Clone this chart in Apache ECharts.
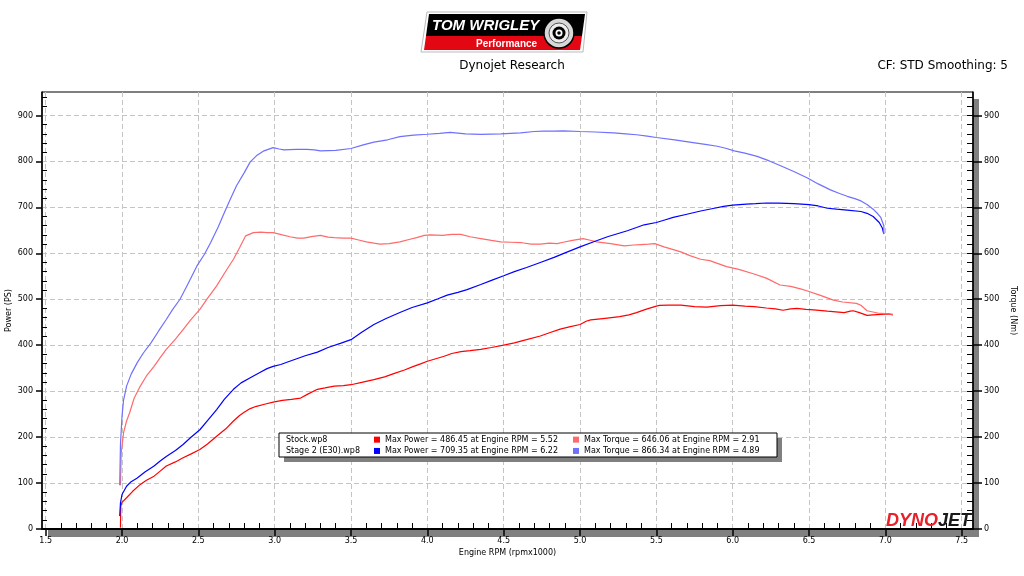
<!DOCTYPE html>
<html>
<head>
<meta charset="utf-8">
<script src="https://cdn.jsdelivr.net/npm/echarts@6/dist/echarts.min.js"></script>
<style>html,body{margin:0;padding:0;background:#fff}#c{width:1024px;height:576px}</style>
</head>
<body>
<div id="c"></div>
<script>
// ---- Data ----
var stockPowerRpm = [1.99,1.992,2.0,2.03,2.07,2.12,2.16,2.21,2.25,2.29,2.35,2.40,2.45,2.51,2.56,2.62,2.68,2.73,2.77,2.80,2.84,2.88,2.94,2.99,3.05,3.11,3.17,3.22,3.28,3.33,3.39,3.45,3.50,3.57,3.65,3.72,3.78,3.85,3.91,3.96,4.00,4.05,4.11,4.16,4.22,4.28,4.35,4.42,4.50,4.57,4.65,4.74,4.80,4.87,4.93,5.00,5.04,5.07,5.15,5.26,5.32,5.37,5.43,5.50,5.52,5.58,5.66,5.75,5.83,5.92,6.00,6.08,6.14,6.22,6.28,6.33,6.38,6.42,6.48,6.53,6.62,6.73,6.77,6.79,6.83,6.88,6.92,6.97,7.02,7.05];
var stockPowerPS = [3,50,58,68,82,97,106,115,126,137,146,155,163,173,185,202,218,235,247,254,262,267,272,276,280,282,285,294,304,307,311,312,314,319,325,331,338,346,354,360,365,370,376,382,386,388,391,395,400,405,412,420,427,435,440,445,452,455,458,462,466,471,478,485,486.5,487,487,484,483,486,487,485,484,481,479,476,479,480,478,477,474,471,474,475,471,465,466,467,468,466];

var stockTorqueRpm = [1.99,1.995,2.01,2.03,2.05,2.08,2.12,2.16,2.21,2.25,2.29,2.35,2.40,2.45,2.51,2.56,2.62,2.67,2.73,2.77,2.81,2.86,2.91,2.95,2.99,3.05,3.10,3.15,3.19,3.25,3.30,3.35,3.39,3.45,3.50,3.55,3.60,3.65,3.69,3.75,3.82,3.88,3.93,3.98,4.02,4.10,4.16,4.22,4.28,4.35,4.42,4.48,4.55,4.62,4.68,4.74,4.80,4.85,4.89,4.95,5.02,5.06,5.11,5.20,5.29,5.35,5.40,5.45,5.49,5.55,5.60,5.66,5.72,5.79,5.85,5.90,5.96,6.04,6.14,6.22,6.31,6.38,6.45,6.49,6.57,6.66,6.72,6.81,6.84,6.88,6.95,7.00,7.05];
var stockTorqueNm = [95,166,209,235,253,285,311,333,354,373,391,413,434,455,478,502,529,556,587,612,638,645,646,645,645,640,636,633,633,637,639,635,634,633,633,629,625,622,620,621,625,630,634,639,640,639,641,641,636,632,628,625,624,623,620,620,622,621,624,628,632,629,625,621,616,618,619,620,621,614,609,603,595,587,584,578,571,565,555,546,531,528,522,518,509,498,494,491,487,475,470,469,467];

var stage2PowerRpm = [1.985,1.99,2.0,2.03,2.06,2.10,2.15,2.21,2.25,2.29,2.35,2.40,2.45,2.51,2.56,2.62,2.67,2.73,2.78,2.84,2.90,2.95,2.99,3.04,3.08,3.14,3.20,3.28,3.35,3.43,3.50,3.57,3.65,3.73,3.82,3.90,4.00,4.07,4.13,4.20,4.26,4.35,4.42,4.50,4.57,4.65,4.74,4.83,4.91,5.00,5.09,5.18,5.25,5.31,5.37,5.42,5.50,5.56,5.61,5.70,5.79,5.88,5.94,6.00,6.09,6.15,6.22,6.30,6.40,6.50,6.56,6.62,6.68,6.75,6.84,6.88,6.92,6.96,6.98,6.99];
var stage2PowerPS = [28,57,75,93,103,111,124,137,148,158,171,184,199,216,236,260,282,304,318,329,340,349,354,358,363,370,377,385,395,404,412,428,445,458,471,482,492,501,509,515,521,532,541,551,560,569,580,591,602,614,625,636,643,649,656,662,667,673,678,685,692,698,702,705,707,708,709.4,709,708,706,703,698,696,694,691,687,680,667,655,642];

var stage2TorqueRpm = [1.985,1.99,2.0,2.01,2.03,2.06,2.10,2.14,2.19,2.24,2.29,2.33,2.38,2.43,2.49,2.54,2.58,2.63,2.67,2.71,2.75,2.80,2.84,2.88,2.93,2.99,3.03,3.06,3.14,3.21,3.26,3.30,3.40,3.50,3.58,3.65,3.74,3.82,3.91,4.00,4.08,4.15,4.25,4.35,4.48,4.61,4.70,4.76,4.83,4.89,5.00,5.10,5.22,5.30,5.37,5.44,5.50,5.62,5.74,5.82,5.90,5.96,6.01,6.08,6.16,6.24,6.31,6.40,6.49,6.56,6.64,6.70,6.75,6.80,6.84,6.88,6.92,6.95,6.97,6.99,6.99];
var stage2TorqueNm = [95,185,245,280,311,337,362,383,405,431,456,477,500,532,572,598,623,657,688,718,747,775,799,812,823,830,827,825,826,826,825,823,824,828,836,842,847,854,857,859,861,863,860,859,860,862,865,866,866,866.3,865,864,862,860,858,855,852,847,841,837,833,828,823,818,811,801,791,778,764,751,738,730,724,719,714,706,696,686,678,660,642];

var xTickLabels = [1.5,2.0,2.5,3.0,3.5,4.0,4.5,5.0,5.5,6.0,6.5,7.0,7.5];
var yTickLabels = [0,100,200,300,400,500,600,700,800,900];

var legendText = {
  'Stock Power': 'Max Power = 486.45 at Engine RPM = 5.52',
  'Stage 2 Power': 'Max Power = 709.35 at Engine RPM = 6.22',
  'Stock Torque': 'Max Torque = 646.06 at Engine RPM = 2.91',
  'Stage 2 Torque': 'Max Torque = 866.34 at Engine RPM = 4.89'
};
var runNames = ['Stock.wp8', 'Stage 2 (E30).wp8'];

// ---- helpers ----
function pairs(xs, ys) { return xs.map(function (x, i) { return [x, ys[i]]; }); }
var xMinor = [];
for (var i = 15; i <= 75; i++) { if (i % 5 !== 0) xMinor.push(i / 10); }
var yMinor = [];
for (var j = 20; j <= 940; j += 20) { if (j % 100 !== 0) yMinor.push(j); }

var XMIN = 1.476, XMAX = 7.574, YMAX = 951;
var FONT = 'DejaVu Sans';
var lblStyle = { color: '#000', fontSize: 8, fontFamily: FONT };

var chart = echarts.init(document.getElementById('c'), null, { renderer: 'canvas' });
chart.setOption({
  animation: false,
  backgroundColor: '#fff',
  textStyle: { fontFamily: FONT },
  grid: { left: 42, right: 51, top: 92, bottom: 47, show: true, backgroundColor: '#fff', borderColor: '#000', borderWidth: 1, containLabel: false, outerBoundsMode: 'none' },
  xAxis: [
    {
      type: 'value', min: XMIN, max: XMAX, position: 'bottom',
      name: 'Engine RPM (rpmx1000)', nameLocation: 'middle', nameGap: 20, nameMoveOverlap: false,
      nameTextStyle: { color: '#000', fontSize: 8, fontFamily: FONT },
      axisLine: { show: true, lineStyle: { color: '#000', width: 1.8 } },
      axisTick: { show: true, inside: false, length: 7, customValues: xTickLabels, lineStyle: { color: '#000', width: 1.5 } },
      axisLabel: Object.assign({ customValues: xTickLabels, margin: 8, formatter: function (v) { return v.toFixed(1); } }, lblStyle),
      splitLine: { show: true, lineStyle: { color: '#c4c4c4', type: [5, 3], width: 1 } }
    },
    {
      type: 'value', min: XMIN, max: XMAX, position: 'bottom',
      axisLine: { show: false },
      axisTick: { show: true, inside: true, length: 6, customValues: xMinor, lineStyle: { color: '#000', width: 1 } },
      axisLabel: { show: false },
      splitLine: { show: false }
    }
  ],
  yAxis: [
    {
      type: 'value', min: 0, max: YMAX, position: 'left',
      name: 'Power (PS)', nameLocation: 'middle', nameGap: 29, nameRotate: 90, nameMoveOverlap: false,
      nameTextStyle: { color: '#000', fontSize: 8, fontFamily: FONT },
      axisLine: { show: true, lineStyle: { color: '#000', width: 1.5 } },
      axisTick: { show: true, inside: false, length: 6, customValues: yTickLabels, lineStyle: { color: '#000', width: 1.5 } },
      axisLabel: Object.assign({ customValues: yTickLabels, margin: 9 }, lblStyle),
      splitLine: { show: true, lineStyle: { color: '#c4c4c4', type: [5, 3], width: 1 } }
    },
    {
      type: 'value', min: 0, max: YMAX, position: 'left',
      axisLine: { show: false },
      axisTick: { show: true, inside: true, length: 5, customValues: yMinor, lineStyle: { color: '#000', width: 1 } },
      axisLabel: { show: false }, splitLine: { show: false }
    },
    {
      type: 'value', min: 0, max: YMAX, position: 'right',
      name: 'Torque (Nm)', nameLocation: 'middle', nameGap: 36, nameRotate: -90, nameMoveOverlap: false,
      nameTextStyle: { color: '#000', fontSize: 8, fontFamily: FONT },
      axisLine: { show: true, lineStyle: { color: '#000', width: 1.5 } },
      axisTick: { show: true, inside: false, length: 9, customValues: yTickLabels, lineStyle: { color: '#000', width: 1.5 } },
      axisLabel: Object.assign({ customValues: yTickLabels, margin: 11 }, lblStyle),
      splitLine: { show: false }
    },
    {
      type: 'value', min: 0, max: YMAX, position: 'right',
      axisLine: { show: false },
      axisTick: { show: true, inside: true, length: 6, customValues: yMinor.concat(yTickLabels.slice(1)), lineStyle: { color: '#000', width: 1 } },
      axisLabel: { show: false }, splitLine: { show: false }
    }
  ],
  legend: [
    {
      data: ['Stock Power', 'Stage 2 Power'], orient: 'vertical', left: 374, top: 434, padding: 0,
      itemWidth: 6, itemHeight: 6, itemGap: 0, icon: 'rect', selectedMode: false, z: 8,
      formatter: function (n) { return legendText[n]; },
      textStyle: { color: '#000', fontSize: 8, lineHeight: 11.3, fontFamily: FONT }
    },
    {
      data: ['Stock Torque', 'Stage 2 Torque'], orient: 'vertical', left: 573, top: 434, padding: 0,
      itemWidth: 6, itemHeight: 6, itemGap: 0, icon: 'rect', selectedMode: false, z: 8,
      formatter: function (n) { return legendText[n]; },
      textStyle: { color: '#000', fontSize: 8, lineHeight: 11.3, fontFamily: FONT }
    }
  ],
  series: [
    { name: 'Stock Power', type: 'line', xAxisIndex: 0, yAxisIndex: 0, data: pairs(stockPowerRpm, stockPowerPS), showSymbol: false, color: '#ff0000', lineStyle: { width: 1.2 } },
    { name: 'Stock Torque', type: 'line', xAxisIndex: 0, yAxisIndex: 2, data: pairs(stockTorqueRpm, stockTorqueNm), showSymbol: false, color: '#ff6a6a', lineStyle: { width: 1.2 } },
    { name: 'Stage 2 Power', type: 'line', xAxisIndex: 0, yAxisIndex: 0, data: pairs(stage2PowerRpm, stage2PowerPS), showSymbol: false, color: '#0000ff', lineStyle: { width: 1.2 } },
    { name: 'Stage 2 Torque', type: 'line', xAxisIndex: 0, yAxisIndex: 2, data: pairs(stage2TorqueRpm, stage2TorqueNm), showSymbol: false, color: '#7070ff', lineStyle: { width: 1.2 } }
  ],
  graphic: [
    // plot drop shadow
    { type: 'rect', z: -1, shape: { x: 48, y: 530, width: 931, height: 7 }, style: { fill: '#808080' }, silent: true },
    { type: 'rect', z: -1, shape: { x: 973, y: 99, width: 6, height: 438 }, style: { fill: '#808080' }, silent: true },
    // titles
    { type: 'text', z: 5, x: 512, y: 66, style: { text: 'Dynojet Research', fill: '#000', font: '12px "DejaVu Sans"', align: 'center', verticalAlign: 'middle' } },
    { type: 'text', z: 5, x: 1008, y: 66, style: { text: 'CF: STD Smoothing: 5', fill: '#000', font: '12px "DejaVu Sans"', align: 'right', verticalAlign: 'middle' } },
    // legend box
    { type: 'rect', z: 6, shape: { x: 284, y: 438, width: 498, height: 24 }, style: { fill: '#808080' } },
    { type: 'rect', z: 7, shape: { x: 279, y: 433, width: 498, height: 24 }, style: { fill: '#fff', stroke: '#000', lineWidth: 1 } },
    { type: 'text', z: 8, x: 286, y: 439.5, style: { text: runNames[0], fill: '#000', font: '8px "DejaVu Sans"', verticalAlign: 'middle' } },
    { type: 'text', z: 8, x: 286, y: 450.8, style: { text: runNames[1], fill: '#000', font: '8px "DejaVu Sans"', verticalAlign: 'middle' } },
    // Tom Wrigley logo
    { type: 'polygon', z: 5, shape: { points: [[427, 12], [587, 12], [583, 52], [421, 52]] }, style: { fill: '#fff', stroke: '#bbb', lineWidth: 1 } },
    { type: 'polygon', z: 5, shape: { points: [[429, 14], [585, 14], [582, 36], [426, 36]] }, style: { fill: '#000' } },
    { type: 'polygon', z: 5, shape: { points: [[426, 36], [582, 36], [580, 50], [424, 50]] }, style: { fill: '#e30613' } },
    { type: 'text', z: 6, x: 432, y: 26, style: { text: 'TOM WRIGLEY', fill: '#fff', font: 'italic bold 15px "Liberation Sans"', verticalAlign: 'middle' } },
    { type: 'text', z: 6, x: 476, y: 44, style: { text: 'Performance', fill: '#fff', font: 'bold 10px "Liberation Sans"', verticalAlign: 'middle' } },
    { type: 'circle', z: 6, shape: { cx: 559, cy: 33, r: 15 }, style: { fill: '#d8d8d8', stroke: '#000', lineWidth: 1.5 } },
    { type: 'circle', z: 6, shape: { cx: 559, cy: 33, r: 10 }, style: { fill: '#eee', stroke: '#555', lineWidth: 1 } },
    { type: 'circle', z: 6, shape: { cx: 559, cy: 33, r: 6.5 }, style: { fill: '#000' } },
    { type: 'circle', z: 6, shape: { cx: 559, cy: 33, r: 3.5 }, style: { fill: '#fff' } },
    { type: 'circle', z: 6, shape: { cx: 559, cy: 33, r: 1.8 }, style: { fill: '#000' } },
    // Dynojet logo
    { type: 'text', z: 5, x: 971, y: 521, style: {
        text: '{a|DYNO}{b|JET}', align: 'right', verticalAlign: 'middle',
        rich: {
          a: { fill: '#e8202a', font: 'italic 900 18px "Liberation Sans"' },
          b: { fill: '#1a1a1a', font: 'italic 900 18px "Liberation Sans"' }
        } } }
  ]
});
</script>
</body>
</html>
